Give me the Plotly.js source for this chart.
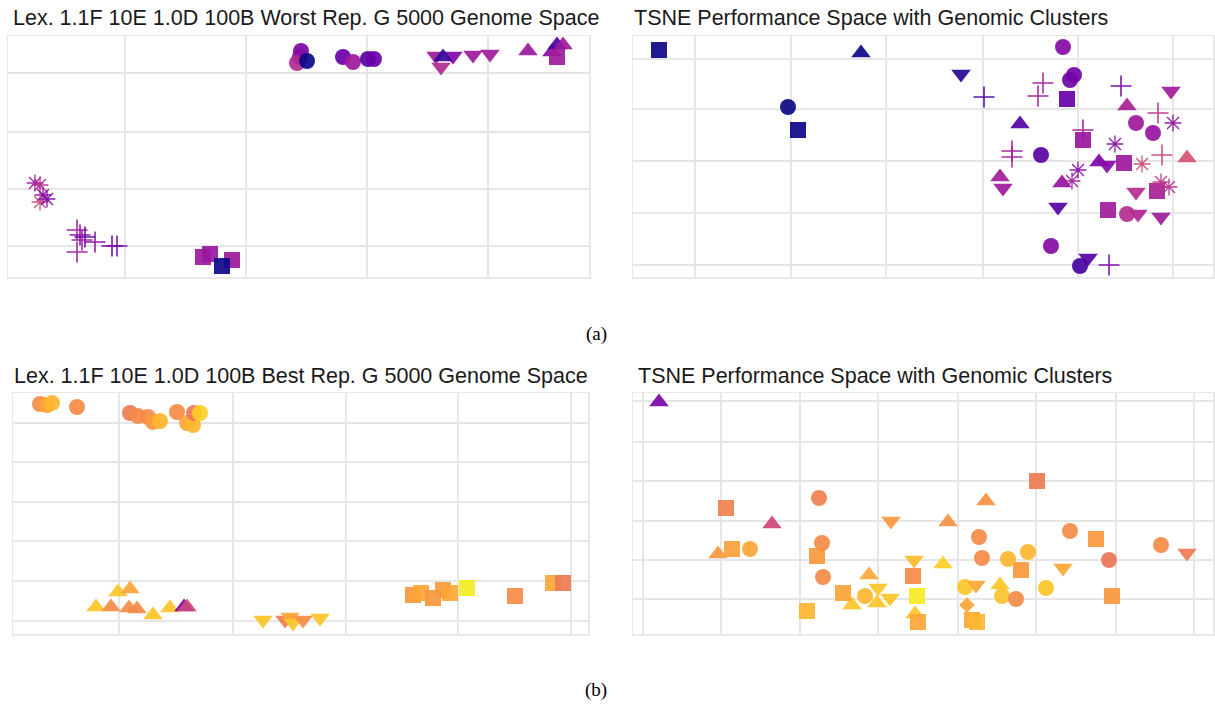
<!DOCTYPE html>
<html><head><meta charset="utf-8">
<script src="https://cdn.plot.ly/plotly-3.0.1.min.js"></script>
<style>html,body{margin:0;padding:0;background:#fff}#chart{width:1215px;height:704px}</style>
</head><body><div id="chart"></div>
<script>
// Shapes = genomic cluster, value = performance (plasma scale 0..1)
// Panel A1: worst rep genome space
const a1_x = [293,292,289,335,345,360,366,299, 428,433,445,465,482, 435,520,544,549,555, 549, 27,32,35,32,39, 69,72,77,74,87,69,104,109, 195,202,224,214];
const a1_y = [226,220,214,220,215,218,218,216, 221,210,221,222,223, 220,226,225,232,232, 220, 94,92,82,75,78, 47,42,40,37,35,25,31,31, 20,23,17,11];
const a1_s = ['o','o','o','o','o','o','o','o', 'v','v','v','v','v', '^','^','^','^','^', 's', '*','*','*','*','*', '+','+','+','+','+','+','+','+', 's','s','s','s'];
const a1_v = [.25,.28,.4,.2,.34,.15,.2,0, .34,.4,.27,.34,.35, .08,.34,.28,.11,.34, .35, .34,.4,.28,.5,.25, .34,.28,.15,.34,.28,.34,.2,.25, .34,.33,.34,0];

// Panel A2: TSNE performance space (worst)
const a2_x = [26,165,434,450,491,524,475, 228,494,387,466,554,429,367, 328,538,474,370,503,425,505,528,455, 155,430,437,441,503,520,408,494,418,447, 410,405,351,488,525,379,379,529,476, 540,482,509,445,439,528,536];
const a2_y = [227,147,178,137,114,86,67, 224,171,153,115,119,94,100, 203,186,112,89,85,70,63,60,19, 170,230,197,202,154,144,122,63,31,11, 194,181,180,191,164,126,120,122,12, 154,133,113,107,96,95,90];
const a2_s = ['s','s','s','s','s','s','s', '^','^','^','^','^','^','^', 'v','v','v','v','v','v','v','v','v', 'o','o','o','o','o','o','o','o','o','o', '+','+','+','+','+','+','+','+','+', '*','*','*','*','*','*','*'];
const a2_v = [0,0,.2,.33,.34,.37,.35, 0,.37,.15,.25,.54,.32,.36, .05,.35,.28,.34,.41,.15,.39,.35,.15, 0,.28,.22,.22,.34,.32,.16,.41,.27,.11, .36,.34,.11,.22,.43,.34,.36,.48,.25, .3,.28,.5,.28,.35,.44,.41];
const a2_hx = [450], a2_hy = [147], a2_hv = [.33]; // plus hidden behind a square

// Panel B1: best rep genome space
const b1_x = [27,34,39,64,117,125,135,140,147,164,174,180,181,187, 83,98,105,117,116,124,140,157,171,174, 250,272,277,280,290,307, 400,408,420,430,437,454,502,540,550];
const b1_y = [230,229,231,227,221,218,217,212,213,222,211,209,221,221, 27,27,42,45,26,25,19,26,27,27, 14,14,17,11,14,16, 39,41,36,44,41,46,38,51,51];
const b1_s = ['o','o','o','o','o','o','o','o','o','o','o','o','o','o', '^','^','^','^','^','^','^','^','^','^', 'v','v','v','v','v','v', 's','s','s','s','s','s','s','s','s'];
const b1_v = [.72,.79,.84,.72,.67,.72,.72,.76,.84,.72,.8,.84,.67,.9, .88,.72,.88,.8,.72,.72,.88,.88,.25,.5, .88,.67,.8,.88,.72,.88, .76,.8,.76,.76,.8,.97,.72,.8,.67];

// Panel B2: TSNE performance space (best)
const b2_x = [26,139,85,236,219,244,282,353,315,310,367, 93,99,184,280,210,174,284,285,404,463,388,479,339,344, 117,186,189,190,232,346,437,528,349,375,395,476,332,369,383,413, 258,281,245,257,554,430,343, 334];
const b2_y = [232,110,80,59,29,31,20,133,112,70,49, 126,85,78,58,41,23,38,12,153,95,64,38,14,12, 85,136,91,57,38,97,103,89,76,75,82,74,47,38,35,46, 113,74,46,36,81,66,49, 29];
const b2_s = ['^','^','^','^','^','^','^','^','^','^','^', 's','s','s','s','s','s','s','s','s','s','s','s','s','s', 'o','o','o','o','o','o','o','o','o','o','o','o','o','o','o','o', 'v','v','v','v','v','v','v', 'd'];
const b2_v = [.25,.5,.76,.8,.88,.88,.88,.74,.74,.9,.88, .69,.78,.76,.72,.79,.84,.97,.8,.67,.76,.76,.76,.8,.84, .8,.69,.72,.72,.84,.72,.72,.72,.72,.84,.84,.65,.88,.87,.72,.88, .76,.85,.88,.88,.67,.8,.8, .8];

const titleTop = "Lex. 1.1F 10E 1.0D 100B Worst Rep. G 5000 Genome Space";
const titleBottom = "Lex. 1.1F 10E 1.0D 100B Best Rep. G 5000 Genome Space";
const titleTsne = "TSNE Performance Space with Genomic Clusters";
const captions = ["(a)", "(b)"];

const plasma = [[0,'#0d0887'],[0.1,'#41049d'],[0.2,'#6a00a8'],[0.3,'#8f0da4'],[0.4,'#b12a90'],[0.5,'#cc4778'],[0.6,'#e16462'],[0.7,'#f2844b'],[0.8,'#fca636'],[0.9,'#fcce25'],[1,'#f0f921']];
const SYM = {o:['circle',16,0], s:['square',16,0], '^':['triangle-up',17,0], v:['triangle-down',17,0], '+':['cross-thin-open',15,1.6], '*':['asterisk-open',14,1.3], d:['diamond',12,0]};

function trace(x,y,s,v,ax){
  return {type:'scatter', mode:'markers', x:x, y:y, xaxis:'x'+ax, yaxis:'y'+ax, hoverinfo:'skip', showlegend:false,
    marker:{symbol:s.map(k=>SYM[k][0]), size:s.map(k=>SYM[k][1]), color:v, colorscale:plasma, cmin:0, cmax:1, opacity:0.92,
      line:{width:s.map(k=>SYM[k][2])}}};
}
const W=1215,H=704;
function axes(l,r,t,b,gx,gy,wx,hy){
  const common={showticklabels:false, ticks:'', zeroline:false, showgrid:true, gridcolor:'#e6e6e6', gridwidth:1.5, showline:true, mirror:true, linecolor:'#e8e8e8', linewidth:1.5, fixedrange:true};
  return [Object.assign({}, common, {domain:[l/W, r/W], range:[0,wx], tickvals:gx}),
          Object.assign({}, common, {domain:[1-b/H, 1-t/H], range:[0,hy], tickvals:gy})];
}
const [x1,y1] = axes(8,589,36,277,[117,238,359,480],[204,145,88,31],581,241);
const [x2,y2] = axes(633,1213,36,277,[62,158,253,350,445,540],[218,168,116,64,12],580,241);
const [x3,y3] = axes(13,588,393,634,[106,220,333,445,558],[211,172,132,93,53,13],575,241);
const [x4,y4] = axes(633,1213,393,634,[10,88,167,245,325,403,483,561],[233,192,153,113,74,35],580,241);

const data = [
  trace(a1_x,a1_y,a1_s,a1_v,''),
  trace(a2_hx,a2_hy,['+'],a2_hv,'2'),
  trace(a2_x,a2_y,a2_s,a2_v,'2'),
  trace(b1_x,b1_y,b1_s,b1_v,'3'),
  trace(b2_x,b2_y,b2_s,b2_v,'4')
];
data[0].xaxis='x'; data[0].yaxis='y';
x2.anchor='y2'; y2.anchor='x2'; x3.anchor='y3'; y3.anchor='x3'; x4.anchor='y4'; y4.anchor='x4';
x1.anchor='y'; y1.anchor='x';

const tf = {family:'Liberation Sans, Arial, sans-serif', size:21.5, color:'#1a1a1a'};
const cf = {family:'Liberation Serif, Times New Roman, serif', size:19, color:'#000'};
function ann(text,px,py,font,anchor){return {text:text, xref:'paper', yref:'paper', x:px/W, y:1-py/H, xanchor:anchor, yanchor:'middle', showarrow:false, font:font};}

const layout = {
  width:W, height:H, margin:{l:0,r:0,t:0,b:0}, paper_bgcolor:'#fff', plot_bgcolor:'#fff', showlegend:false,
  xaxis:x1, yaxis:y1, xaxis2:x2, yaxis2:y2, xaxis3:x3, yaxis3:y3, xaxis4:x4, yaxis4:y4,
  annotations:[
    ann(titleTop,11,18,tf,'left'),
    ann(titleTsne,632,18,tf,'left'),
    ann(titleBottom,12,376,tf,'left'),
    ann(titleTsne,636,376,tf,'left'),
    ann(captions[0],596,334,cf,'center'),
    ann(captions[1],596,690,cf,'center')
  ]
};
Plotly.newPlot('chart', data, layout, {displayModeBar:false, staticPlot:true});
</script></body></html>
